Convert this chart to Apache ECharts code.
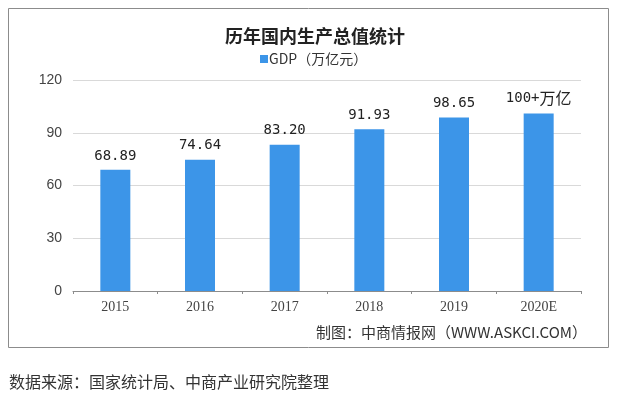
<!DOCTYPE html>
<html>
<head>
<meta charset="utf-8">
<script src="https://cdn.jsdelivr.net/npm/echarts@6/dist/echarts.min.js"></script>
<style>
  html, body { margin: 0; padding: 0; background: #fff; }
  #main { width: 617px; height: 398px; }
</style>
</head>
<body>
<div id="main"></div>
<script>
// 年份
var years = ["2015", "2016", "2017", "2018", "2019", "2020E"];
// GDP（万亿元）
var gdpValues = [68.89, 74.64, 83.20, 91.93, 98.65, 101.0];
// 柱顶标签
var barLabels = ["68.89", "74.64", "83.20", "91.93", "98.65", "100+{big|万亿}"];
var yTicks = [0, 30, 60, 90, 120];

var chartDom = document.getElementById("main");
var myChart = echarts.init(chartDom);

var option = {
  animation: false,
  backgroundColor: "#fff",
  title: {
    text: "历年国内生产总值统计",
    left: 310,
    top: 22,
    textAlign: "center",
    textStyle: {
      fontFamily: "Noto Sans CJK SC",
      fontSize: 18,
      fontWeight: "bold",
      color: "#222"
    }
  },
  legend: {
    data: ["GDP（万亿元）"],
    left: 255,
    top: 47,
    icon: "rect",
    itemWidth: 8,
    itemHeight: 8,
    itemGap: 2,
    textStyle: {
      fontFamily: "Noto Sans CJK SC",
      fontSize: 14,
      color: "#333",
      padding: [0, 0, 0, -4]
    }
  },
  grid: {
    left: 73,
    right: 36,
    top: 80,
    bottom: 107
  },
  xAxis: {
    type: "category",
    data: years,
    axisLine: { lineStyle: { color: "#8c8c8c" } },
    axisTick: { show: true, length: 3, lineStyle: { color: "#8c8c8c" } },
    axisLabel: {
      fontFamily: "Liberation Serif",
      fontSize: 14,
      color: "#444",
      margin: 9
    }
  },
  yAxis: {
    type: "value",
    min: 0,
    max: 120,
    interval: 30,
    axisLine: { show: false },
    axisTick: { show: false },
    splitLine: { lineStyle: { color: "#d9d9d9" } },
    axisLabel: {
      fontFamily: "Liberation Sans",
      fontSize: 14,
      color: "#444",
      margin: 11,
      formatter: function (v) {
        return yTicks.indexOf(v) >= 0 ? String(v) : "";
      }
    }
  },
  series: [
    {
      name: "GDP（万亿元）",
      type: "bar",
      barWidth: 30,
      data: gdpValues,
      itemStyle: { color: "#3c95e8" },
      label: {
        show: true,
        position: "top",
        distance: 7,
        fontFamily: "DejaVu Sans Mono",
        fontSize: 14,
        color: "#222",
        formatter: function (p) {
          return barLabels[p.dataIndex];
        },
        rich: {
          big: {
            fontFamily: "Noto Sans CJK SC",
            fontSize: 16,
            color: "#222"
          }
        }
      }
    }
  ],
  graphic: [
    {
      type: "rect",
      shape: { x: 8.5, y: 8.5, width: 600, height: 339 },
      style: { fill: "none", stroke: "#8c8c8c", lineWidth: 1 }
    },
    {
      type: "text",
      style: {
        x: 587,
        y: 332,
        text: "制图：中商情报网（WWW.ASKCI.COM）",
        font: "15px 'Noto Sans CJK SC'",
        fill: "#333",
        align: "right",
        verticalAlign: "middle"
      }
    },
    {
      type: "text",
      style: {
        x: 9,
        y: 382,
        text: "数据来源：国家统计局、中商产业研究院整理",
        font: "16px 'Noto Sans CJK SC'",
        fill: "#333",
        align: "left",
        verticalAlign: "middle"
      }
    }
  ]
};

option && myChart.setOption(option);
</script>
</body>
</html>
